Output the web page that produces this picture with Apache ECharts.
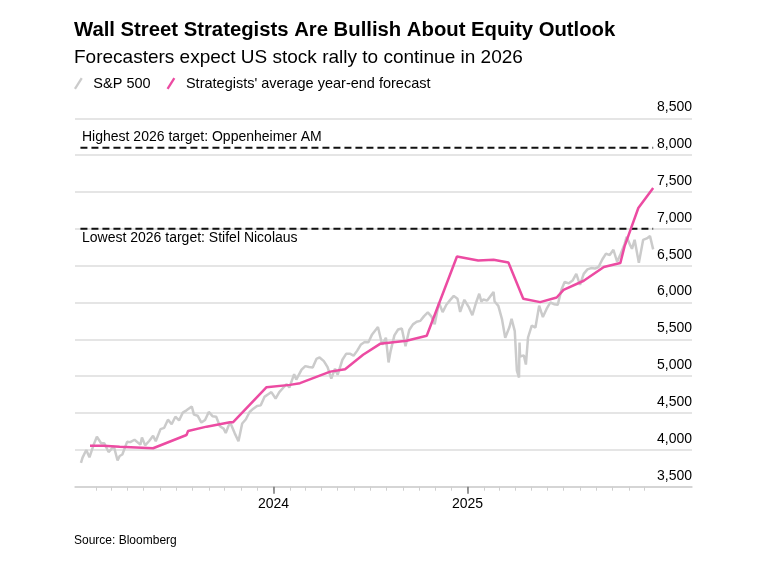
<!DOCTYPE html>
<html>
<head>
<meta charset="utf-8">
<script src="https://cdn.jsdelivr.net/npm/echarts@6/dist/echarts.min.js"></script>
<style>
  html, body { margin: 0; padding: 0; background: #fff; }
  #chart { width: 759px; height: 563px; }
</style>
</head>
<body>
<div id="chart"></div>
<script>
// ---------------- DATA ----------------
const TITLE = 'Wall Street Strategists Are Bullish About Equity Outlook';
const SUBTITLE = 'Forecasters expect US stock rally to continue in 2026';
const SOURCE = 'Source: Bloomberg';
const SERIES_NAMES = ['S&P 500', "Strategists' average year-end forecast"];

// S&P 500 closes (date, level)
const SP500 = [
  ['2023-01-03',3824],['2023-01-06',3895],['2023-01-13',3999],['2023-01-19',3899],['2023-01-27',4071],
  ['2023-02-02',4179],['2023-02-10',4090],['2023-02-16',4090],['2023-02-24',3970],['2023-03-06',4048],
  ['2023-03-13',3856],['2023-03-17',3917],['2023-03-22',3937],['2023-03-31',4109],['2023-04-06',4105],
  ['2023-04-14',4137],['2023-04-25',4071],['2023-04-28',4169],['2023-05-04',4061],['2023-05-12',4124],
  ['2023-05-19',4192],['2023-05-24',4116],['2023-06-02',4282],['2023-06-09',4299],['2023-06-16',4410],
  ['2023-06-23',4348],['2023-06-30',4450],['2023-07-07',4399],['2023-07-14',4505],['2023-07-21',4536],
  ['2023-07-31',4589],['2023-08-04',4478],['2023-08-11',4464],['2023-08-18',4370],['2023-08-25',4406],
  ['2023-09-01',4515],['2023-09-08',4457],['2023-09-15',4450],['2023-09-22',4320],['2023-09-29',4288],
  ['2023-10-03',4229],['2023-10-11',4377],['2023-10-20',4224],['2023-10-27',4117],['2023-11-03',4358],
  ['2023-11-10',4415],['2023-11-17',4514],['2023-11-24',4559],['2023-12-01',4595],['2023-12-08',4604],
  ['2023-12-15',4719],['2023-12-22',4755],['2023-12-28',4783],
  ['2024-01-05',4697],['2024-01-12',4784],['2024-01-19',4840],['2024-01-26',4891],['2024-01-31',4846],
  ['2024-02-09',5027],['2024-02-13',4953],['2024-02-23',5089],['2024-03-01',5137],['2024-03-08',5124],
  ['2024-03-15',5117],['2024-03-22',5234],['2024-03-28',5254],['2024-04-05',5204],['2024-04-12',5123],
  ['2024-04-19',4967],['2024-04-26',5100],['2024-05-01',5018],['2024-05-10',5223],['2024-05-17',5303],
  ['2024-05-24',5305],['2024-05-31',5278],['2024-06-07',5347],['2024-06-14',5431],['2024-06-21',5465],
  ['2024-06-28',5460],['2024-07-05',5567],['2024-07-16',5667],['2024-07-24',5427],['2024-07-31',5522],
  ['2024-08-05',5186],['2024-08-09',5344],['2024-08-16',5554],['2024-08-23',5634],['2024-08-30',5648],
  ['2024-09-06',5408],['2024-09-13',5626],['2024-09-20',5703],['2024-09-27',5738],['2024-10-04',5751],
  ['2024-10-11',5815],['2024-10-18',5865],['2024-10-25',5808],['2024-10-31',5705],['2024-11-08',5996],
  ['2024-11-15',5870],['2024-11-22',5969],['2024-11-29',6032],['2024-12-06',6090],['2024-12-13',6051],
  ['2024-12-18',5872],['2024-12-26',6037],
  ['2025-01-03',5942],['2025-01-10',5827],['2025-01-17',5997],['2025-01-23',6119],['2025-01-27',6012],
  ['2025-01-31',6041],['2025-02-07',6026],['2025-02-19',6144],['2025-02-21',6013],['2025-02-28',5955],
  ['2025-03-07',5770],['2025-03-13',5522],['2025-03-21',5668],['2025-03-25',5777],['2025-03-31',5612],
  ['2025-04-04',5074],['2025-04-08',4982],['2025-04-09',5457],['2025-04-10',5268],['2025-04-17',5283],
  ['2025-04-21',5158],['2025-04-25',5525],['2025-05-02',5687],['2025-05-09',5660],['2025-05-16',5958],
  ['2025-05-23',5803],['2025-05-30',5912],['2025-06-06',6000],['2025-06-13',5977],['2025-06-20',5968],
  ['2025-06-27',6173],['2025-07-03',6279],['2025-07-11',6260],['2025-07-18',6297],['2025-07-25',6389],
  ['2025-08-01',6238],['2025-08-08',6389],['2025-08-15',6449],['2025-08-22',6467],['2025-08-29',6460],
  ['2025-09-05',6482],['2025-09-12',6584],['2025-09-19',6664],['2025-09-26',6644],['2025-10-03',6716],
  ['2025-10-10',6553],['2025-10-17',6664],['2025-10-24',6792],['2025-10-28',6891],['2025-11-04',6771],
  ['2025-11-07',6729],['2025-11-12',6851],['2025-11-20',6538],['2025-11-28',6849],['2025-12-05',6870],
  ['2025-12-11',6901],['2025-12-17',6721]
];

// Strategists' average year-end forecast (date, level)
const FORECAST = [
  ['2023-01-20',4057],['2023-02-14',4057],['2023-03-17',4043],['2023-05-19',4022],['2023-07-21',4202],
  ['2023-07-24',4257],['2023-08-28',4315],['2023-10-11',4375],['2023-10-17',4375],['2023-12-19',4850],
  ['2024-02-01',4882],['2024-02-20',4905],['2024-04-17',5062],['2024-05-15',5095],['2024-06-18',5290],
  ['2024-07-20',5439],['2024-09-08',5480],['2024-10-16',5548],['2024-12-12',6625],['2025-01-21',6571],
  ['2025-02-19',6580],['2025-03-19',6543],['2025-04-16',6050],['2025-05-18',6005],['2025-06-18',6068],
  ['2025-07-01',6172],['2025-08-08',6295],['2025-09-15',6481],['2025-10-16',6535],['2025-10-24',6761],
  ['2025-11-19',7283],['2025-12-17',7554]
];

// 2026 target extremes
const HIGH_TARGET = { label: 'Highest 2026 target: Oppenheimer AM', value: 8100, from: '2023-01-02', to: '2025-12-17' };
const LOW_TARGET  = { label: 'Lowest 2026 target: Stifel Nicolaus', value: 7000, from: '2023-01-02', to: '2025-12-17' };

// Axis ticks
const MONTH_TICKS = [];
for (let y = 2023; y <= 2025; y++) {
  for (let m = 1; m <= 12; m++) {
    if (y === 2023 && m === 1) continue;
    MONTH_TICKS.push(y + '-' + String(m).padStart(2, '0') + '-01');
  }
}
const YEAR_TICKS = ['2024-01-01', '2025-01-01'];
const YEAR_LABELS = ['2024', '2025'];
const Y_MIN = 3500, Y_MAX = 8500, Y_STEP = 500;

// ---------------- CHART ----------------
const FONT = '"Liberation Sans", Arial, sans-serif';
const PINK = '#ec4ba2';
const GREY = '#cbcbcb';
const DAY = 86400e3;
const parse = s => Date.parse(s + 'T00:00:00Z');
const toXY = arr => arr.map(d => [parse(d[0]), d[1]]);

const chart = echarts.init(document.getElementById('chart'), null, { renderer: 'canvas' });

const X_MIN = parse('2022-12-22') + 0.75 * DAY;
const X_MAX = parse('2026-02-28') + 0.2 * DAY;

const xBase = {
  type: 'value', scale: true,
  min: X_MIN, max: X_MAX,
  splitLine: { show: false },
  gridIndex: 0
};

const option = {
  animation: false,
  backgroundColor: '#fff',
  textStyle: { fontFamily: FONT },
  title: [
    { text: TITLE, left: 74, top: 20, padding: 0,
      textStyle: { fontFamily: FONT, fontWeight: 'bold', fontSize: 20.3, color: '#000' } },
    { text: SUBTITLE, left: 74, top: 48, padding: 0,
      textStyle: { fontFamily: FONT, fontWeight: 'normal', fontSize: 19, color: '#000' } },
    { text: SOURCE, left: 74, top: 535, padding: 0,
      textStyle: { fontFamily: FONT, fontWeight: 'normal', fontSize: 12, color: '#000' } }
  ],
  legend: {
    left: 74, top: 76, padding: 0,
    itemWidth: 10, itemHeight: 12, itemGap: 16,
    selectedMode: false,
    textStyle: { fontFamily: FONT, fontSize: 14.5, color: '#000', padding: [0, 0, 0, 5] },
    data: [
      { name: SERIES_NAMES[0], icon: 'path://M0,11 L7,0 L9,1.4 L2,12.4 Z' },
      { name: SERIES_NAMES[1], icon: 'path://M0,11 L7,0 L9,1.4 L2,12.4 Z' }
    ]
  },
  grid: { left: 75, right: 67, top: 118.3, bottom: 76.3, containLabel: false },
  xAxis: [
    Object.assign({}, xBase, {
      axisLine: { show: true, lineStyle: { color: '#cfcfcf', width: 1.5 } },
      axisTick: { show: true, length: 4, lineStyle: { color: '#cfcfcf', width: 1 },
        customValues: MONTH_TICKS.map(parse) },
      axisLabel: { show: false }
    }),
    Object.assign({}, xBase, {
      position: 'bottom',
      axisLine: { show: false },
      axisTick: { show: true, length: 7, lineStyle: { color: '#777', width: 1.5 },
        customValues: YEAR_TICKS.map(parse) },
      axisLabel: { show: true, customValues: YEAR_TICKS.map(parse), margin: 10,
        fontFamily: FONT, fontSize: 14, color: '#000',
        formatter: v => YEAR_LABELS[YEAR_TICKS.map(parse).indexOf(v)] || '' }
    })
  ],
  yAxis: {
    type: 'value', position: 'right',
    min: Y_MIN, max: Y_MAX, interval: Y_STEP,
    axisLine: { show: false }, axisTick: { show: false },
    splitLine: { show: true, lineStyle: { color: '#dcdcdc', width: 1.5 } },
    axisLabel: {
      inside: true, margin: 0, align: 'right', verticalAlign: 'bottom',
      padding: [0, 0, 4, 0],
      fontFamily: FONT, fontSize: 14, color: '#000',
      formatter: v => v.toLocaleString('en-US')
    }
  },
  graphic: [
    { type: 'text', left: 82, top: 130,
      style: { text: HIGH_TARGET.label, font: '14px ' + FONT, fill: '#000' } },
    { type: 'text', left: 82, top: 231,
      style: { text: LOW_TARGET.label, font: '14px ' + FONT, fill: '#000' } }
  ],
  series: [
    { name: SERIES_NAMES[0], type: 'line', xAxisIndex: 0, data: toXY(SP500),
      showSymbol: false, symbol: 'none', color: GREY,
      lineStyle: { color: GREY, width: 2.5 }, z: 2 },
    { name: 'high', type: 'line', xAxisIndex: 0,
      data: toXY([[HIGH_TARGET.from, HIGH_TARGET.value], [HIGH_TARGET.to, HIGH_TARGET.value]]),
      symbol: 'none', lineStyle: { color: '#111', width: 2, type: [7, 4] }, z: 3 },
    { name: 'low', type: 'line', xAxisIndex: 0,
      data: toXY([[LOW_TARGET.from, LOW_TARGET.value], [LOW_TARGET.to, LOW_TARGET.value]]),
      symbol: 'none', lineStyle: { color: '#111', width: 2, type: [7, 4] }, z: 3 },
    { name: SERIES_NAMES[1], type: 'line', xAxisIndex: 0, data: toXY(FORECAST),
      showSymbol: false, symbol: 'none', color: PINK,
      lineStyle: { color: PINK, width: 2.5 }, z: 4 }
  ]
};
chart.setOption(option);
</script>
</body>
</html>
